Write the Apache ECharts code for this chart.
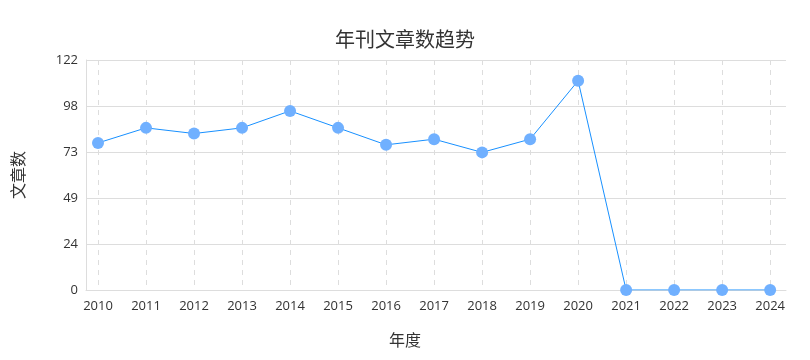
<!DOCTYPE html>
<html>
<head>
<meta charset="utf-8">
<script src="https://cdn.jsdelivr.net/npm/echarts@6/dist/echarts.min.js"></script>
<style>
  html, body { margin: 0; padding: 0; background: #fff; }
  #main { width: 810px; height: 360px; }
</style>
</head>
<body>
<div id="main"></div>
<script>
var years = [2010, 2011, 2012, 2013, 2014, 2015, 2016, 2017, 2018, 2019, 2020, 2021, 2022, 2023, 2024];
var counts = [78, 86, 83, 86, 95, 86, 77, 80, 73, 80, 111, 0, 0, 0, 0];

var chart = echarts.init(document.getElementById('main'), null, { renderer: 'canvas' });

var cjk = '"Noto Sans CJK SC", sans-serif';
var num = '"Open Sans", "Noto Sans", sans-serif';

var option = {
  backgroundColor: '#ffffff',
  title: {
    text: '年刊文章数趋势',
    left: 'center',
    top: 24,
    textStyle: { fontSize: 20, fontWeight: 'normal', color: '#333333', fontFamily: cjk }
  },
  grid: { left: 86, right: 24, top: 60, bottom: 70 },
  xAxis: {
    type: 'value',
    min: 2009.75,
    max: 2024.33,
    name: '年度',
    nameLocation: 'middle',
    nameGap: 42,
    nameTextStyle: { fontSize: 16, color: '#333333', fontFamily: cjk, padding: [0, 62, 0, 0] },
    axisLine: { show: true, lineStyle: { color: '#dddddd' } },
    axisTick: { show: false, customValues: years },
    axisLabel: {
      customValues: years,
      color: '#333333',
      fontSize: 13,
      margin: 10,
      fontFamily: num,
      formatter: function (v) { return String(Math.round(v)); }
    },
    splitLine: { show: true, lineStyle: { color: '#dddddd', type: [5, 5] } }
  },
  yAxis: {
    type: 'value',
    min: 0,
    max: 122,
    interval: 24.4,
    name: '文章数',
    nameLocation: 'middle',
    nameGap: 60,
    nameRotate: 90,
    nameTextStyle: { fontSize: 16, color: '#333333', fontFamily: cjk },
    axisLine: { show: true, lineStyle: { color: '#dddddd' } },
    axisTick: { show: false },
    axisLabel: {
      color: '#333333',
      fontSize: 13,
      margin: 8,
      fontFamily: num,
      formatter: function (v) { return String(Math.round(v)); }
    },
    splitLine: { show: true, lineStyle: { color: '#dddddd' } }
  },
  series: [{
    type: 'line',
    data: years.map(function (y, i) { return [y, counts[i]]; }),
    symbol: 'circle',
    symbolSize: 12,
    lineStyle: { color: '#1890ff', width: 1 },
    itemStyle: { color: '#70b0ff' },
    animation: false
  }]
};

chart.setOption(option);
</script>
</body>
</html>
